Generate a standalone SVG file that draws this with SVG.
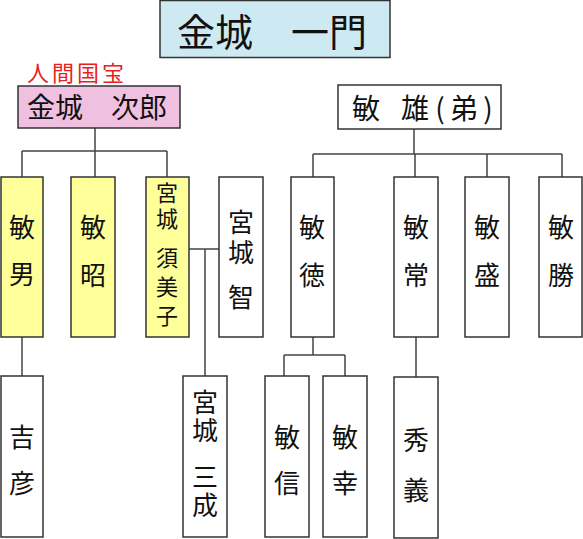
<svg xmlns="http://www.w3.org/2000/svg" width="583" height="539" viewBox="0 0 583 539">
<style>
.box{stroke:#333;stroke-width:1.5}
.w{fill:#fff}
.y{fill:#ffff99}
.p{fill:#f0c0e0}
.b{fill:#cdeaf3}
.t{font-family:"Noto Sans CJK JP","Noto Sans CJK SC",sans-serif;fill:#111;text-anchor:middle;dominant-baseline:central}
.v{font-family:"Noto Sans CJK JP","Noto Sans CJK SC",sans-serif;fill:#111;font-size:26px;writing-mode:vertical-rl;text-anchor:start}
.s{font-size:22px}
.red{font-family:"Noto Sans CJK JP","Noto Sans CJK SC",sans-serif;fill:#e8231f;font-size:22px;letter-spacing:3px;text-anchor:middle;dominant-baseline:central}
.c{fill:none;stroke:#444;stroke-width:1.5}
</style>
<rect width="583" height="539" fill="#fff"/>
<g id="connectors" class="c">
<path d="M95,128V151M22,151H167M22,151V177M95,151V177M167,151V177"/>
<path d="M414,129V154M313,154H562M313,154V177M415,154V177M487,154V177M562,154V177"/>
<path d="M189,249H219M205,249V376"/>
<path d="M22,337V376"/>
<path d="M313,337V355M284,355H345M284,355V376M345,355V376"/>
<path d="M416,337V377"/>
</g>
<g id="title">
<rect class="box b" x="160" y="0.5" width="230" height="57"/>
<text class="t" x="272" y="29" font-size="38">金城　一門</text>
</g>
<g id="jiro">
<text class="red" x="77" y="71">人間国宝</text>
<rect class="box p" x="18" y="86" width="162" height="42"/>
<text class="t" x="97" y="106" font-size="28">金城　次郎</text>
</g>
<g id="toshio-otouto">
<rect class="box w" x="338" y="85" width="163" height="44"/>
<text class="t" font-size="28" y="107"><tspan x="366">敏</tspan><tspan x="415">雄</tspan><tspan x="440">(</tspan><tspan x="464">弟</tspan><tspan x="488">)</tspan></text>
</g>
<g id="toshio">
<rect class="box y" x="1" y="177" width="42" height="160"/>
<text class="v" x="22" y="214" letter-spacing="21">敏男</text>
</g>
<g id="toshiaki">
<rect class="box y" x="71" y="177" width="44" height="160"/>
<text class="v" x="93" y="214" letter-spacing="22">敏昭</text>
</g>
<g id="sumiko">
<rect class="box y" x="146" y="177" width="43" height="160"/>
<text class="v s" x="167" y="182" letter-spacing="4">宮城</text>
<text class="v s" x="167" y="247" letter-spacing="7">須美子</text>
</g>
<g id="satoshi">
<rect class="box w" x="219" y="177" width="44" height="160"/>
<text class="v" x="241" y="209" letter-spacing="4">宮城</text>
<text class="v" x="241" y="284">智</text>
</g>
<g id="toshinori">
<rect class="box w" x="291" y="177" width="43" height="160"/>
<text class="v" x="312" y="214" letter-spacing="22">敏徳</text>
</g>
<g id="toshitsune">
<rect class="box w" x="394" y="177" width="44" height="160"/>
<text class="v" x="416" y="214" letter-spacing="22">敏常</text>
</g>
<g id="toshimori">
<rect class="box w" x="465" y="177" width="44" height="160"/>
<text class="v" x="487" y="214" letter-spacing="22">敏盛</text>
</g>
<g id="toshikatsu">
<rect class="box w" x="539" y="177" width="43" height="160"/>
<text class="v" x="561" y="214" letter-spacing="22">敏勝</text>
</g>
<g id="yoshihiko">
<rect class="box w" x="1" y="376" width="42" height="161"/>
<text class="v" x="22" y="424" letter-spacing="20">吉彦</text>
</g>
<g id="mitsunari">
<rect class="box w" x="183" y="376" width="44" height="161"/>
<text class="v" x="205" y="389" letter-spacing="2">宮城</text>
<text class="v" x="205" y="464" letter-spacing="2">三成</text>
</g>
<g id="toshinobu">
<rect class="box w" x="265" y="376" width="44" height="161"/>
<text class="v" x="287" y="424" letter-spacing="20">敏信</text>
</g>
<g id="toshiyuki">
<rect class="box w" x="323" y="376" width="44" height="161"/>
<text class="v" x="345" y="424" letter-spacing="20">敏幸</text>
</g>
<g id="hideyoshi">
<rect class="box w" x="394" y="377" width="44" height="161"/>
<text class="v" x="416" y="427" letter-spacing="24">秀義</text>
</g>
</svg>
